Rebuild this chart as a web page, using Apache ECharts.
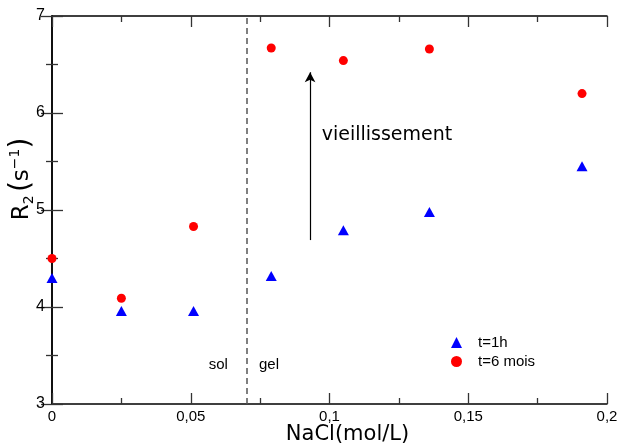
<!DOCTYPE html>
<html>
<head>
<meta charset="utf-8">
<script src="https://cdn.jsdelivr.net/npm/echarts@6/dist/echarts.min.js"></script>
<style>html,body{margin:0;padding:0;background:#fff}#c{width:619px;height:443px}</style>
</head>
<body>
<div id="c"></div>
<script>
var nacl1h = [0, 0.025, 0.051, 0.079, 0.105, 0.136, 0.191];
var r2_1h = [4.30, 3.96, 3.96, 4.32, 4.79, 4.98, 5.45];
var nacl6m = [0, 0.025, 0.051, 0.079, 0.105, 0.136, 0.191];
var r2_6m = [4.50, 4.09, 4.83, 6.67, 6.54, 6.66, 6.20];
var xTickLabels = ['0', '0,05', '0,1', '0,15', '0,2'];
var yTickLabels = ['3', '4', '5', '6', '7'];
var solGelBoundary = 0.07;
var arrowX = 0.093, arrowFrom = 4.69, arrowTo = 6.42;
var agingLabel = 'vieillissement';
var agingLabelPos = [0.0972, 5.77];
var solLabelPos = [0.0599, 3.40];
var gelLabelPos = [0.0782, 3.40];

function pairs(xs, ys) { return xs.map(function (x, i) { return [x, ys[i]]; }); }

var font = '"Liberation Sans", Arial, sans-serif';
var tickCommon = { show: true, inside: true, length: 11, lineStyle: { color: '#333', width: 1.3 } };
var minorCommon = { show: true, splitNumber: 2, length: 6, lineStyle: { color: '#333', width: 1.3 } };
var lineCommon = { show: true, lineStyle: { color: '#000', width: 1.5 } };

var chart = echarts.init(document.getElementById('c'), null, { renderer: 'canvas' });
chart.setOption({
  animation: false,
  backgroundColor: '#fff',
  grid: { left: 52, right: 12, top: 16, bottom: 39, containLabel: false, outerBoundsMode: 'none' },
  legend: {
    orient: 'vertical', left: 451, top: 335, padding: 0,
    itemWidth: 11, itemHeight: 11, itemGap: 4,
    textStyle: { fontFamily: font, fontSize: 15, lineHeight: 15, color: '#000', padding: [0, 0, 0, 11] },
    data: ['t=1h', 't=6 mois']
  },
  xAxis: [{
    type: 'value', min: 0, max: 0.2, interval: 0.05,
    axisLine: lineCommon, axisTick: tickCommon, minorTick: minorCommon,
    splitLine: { show: false },
    axisLabel: { fontFamily: font, fontSize: 15, color: '#000', margin: 5,
      formatter: function (v) { return xTickLabels[Math.round(v / 0.05)]; } },
    name: 'NaCl(mol/L)', nameLocation: 'middle', nameGap: 20, nameMoveOverlap: false,
    nameTextStyle: { fontFamily: '"DejaVu Sans", sans-serif', fontSize: 21, color: '#000', padding: [0, 0, 0, 36] }
  }, {
    type: 'value', min: 0, max: 0.2, interval: 0.05, position: 'top',
    axisLine: lineCommon, axisTick: tickCommon, minorTick: minorCommon,
    splitLine: { show: false }, axisLabel: { show: false }
  }],
  yAxis: [{
    type: 'value', min: 3, max: 7, interval: 1,
    axisLine: lineCommon, axisTick: tickCommon, minorTick: minorCommon,
    splitLine: { show: false },
    axisLabel: { fontFamily: font, fontSize: 16, color: '#000', margin: 7,
      formatter: function (v) { return yTickLabels[Math.round(v - 3)]; } },
    name: '{r|R}{sub|2} {p|(}{r|s}{sup|−1}{p|)}', nameLocation: 'middle', nameGap: 16, nameMoveOverlap: false,
    nameTextStyle: {
      color: '#000', padding: [0, 0, 0, 62],
      rich: {
        r: { fontFamily: '"DejaVu Sans", sans-serif', fontSize: 23, color: '#000' },
        sub: { fontFamily: '"DejaVu Sans", sans-serif', fontSize: 14, color: '#000', verticalAlign: 'bottom', padding: [8, 0, 0, 0] },
        sup: { fontFamily: '"DejaVu Sans", sans-serif', fontSize: 14, color: '#000', verticalAlign: 'top', padding: [0, 0, 12, 0] },
        p: { fontFamily: '"DejaVu Sans", sans-serif', fontSize: 28, color: '#000' }
      }
    }
  }, {
    type: 'value', min: 3, max: 7, interval: 1, position: 'right',
    axisLine: lineCommon, axisTick: tickCommon, minorTick: minorCommon,
    splitLine: { show: false }, axisLabel: { show: false }
  }],
  series: [{
    name: 't=1h', type: 'scatter', symbol: 'triangle', symbolSize: [11, 10],
    itemStyle: { color: '#0000ff', opacity: 1 },
    data: pairs(nacl1h, r2_1h), z: 5,
    markLine: {
      silent: true, symbol: ['none', 'none'], label: { show: false },
      lineStyle: { color: '#555', width: 1.5, type: [6, 4] },
      data: [{ xAxis: solGelBoundary }]
    },
    markPoint: {
      silent: true, symbol: 'circle', symbolSize: 0,
      data: [
        { coord: solLabelPos, value: 'sol', label: { show: true, formatter: 'sol', fontFamily: font, fontSize: 15, color: '#000' } },
        { coord: gelLabelPos, value: 'gel', label: { show: true, formatter: 'gel', fontFamily: font, fontSize: 15, color: '#000' } },
        { coord: agingLabelPos, value: agingLabel, label: { show: true, formatter: agingLabel, fontFamily: '"DejaVu Sans", sans-serif', fontSize: 19, color: '#000', align: 'left' } }
      ]
    }
  }, {
    name: 't=6 mois', type: 'scatter', symbol: 'circle', symbolSize: 9,
    itemStyle: { color: '#ff0000', opacity: 1 },
    data: pairs(nacl6m, r2_6m), z: 5,
    markLine: {
      silent: true, symbol: ['none', 'arrow'], symbolSize: [8, 10], label: { show: false },
      lineStyle: { color: '#000', width: 1.2, type: 'solid' },
      data: [[{ coord: [arrowX, arrowFrom] }, { coord: [arrowX, arrowTo] }]]
    }
  }]
});
</script>
</body>
</html>
